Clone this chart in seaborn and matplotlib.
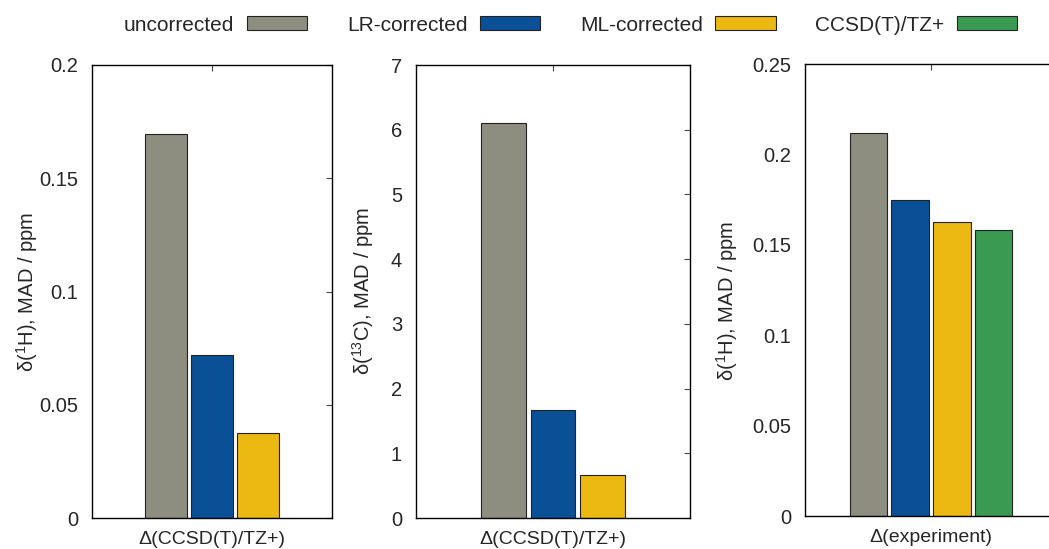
import pandas as pd
import seaborn as sns
import matplotlib.pyplot as plt
from matplotlib.patches import Patch

# Data
methods = ["uncorrected", "LR-corrected", "ML-corrected", "CCSD(T)/TZ+"]
colors = ["#8e8e80", "#0a5096", "#ecb812", "#3a9a52"]

h_ref_methods = ["uncorrected", "LR-corrected", "ML-corrected"]
h_ref_values = [0.1695, 0.072, 0.0375]

c_ref_methods = ["uncorrected", "LR-corrected", "ML-corrected"]
c_ref_values = [6.11, 1.67, 0.66]

h_exp_methods = ["uncorrected", "LR-corrected", "ML-corrected", "CCSD(T)/TZ+"]
h_exp_values = [0.2117, 0.1748, 0.1628, 0.158]

panels = [
    ("Δ(CCSD(T)/TZ+)", h_ref_methods, h_ref_values, r"δ($^{1}$H), MAD / ppm",
     [0, 0.05, 0.1, 0.15, 0.2], ["0", "0.05", "0.1", "0.15", "0.2"], 0.2),
    ("Δ(CCSD(T)/TZ+)", c_ref_methods, c_ref_values, r"δ($^{13}$C), MAD / ppm",
     list(range(8)), [str(i) for i in range(8)], 7),
    ("Δ(experiment)", h_exp_methods, h_exp_values, r"δ($^{1}$H), MAD / ppm",
     [0, 0.05, 0.1, 0.15, 0.2, 0.25], ["0", "0.05", "0.1", "0.15", "0.2", "0.25"], 0.25),
]

# axes boxes in figure fractions, half-width of x range, ylabel coords
W, H = 1049, 549
boxes = [
    ([92 / W, 1 - 518 / H, 240 / W, 453 / H], 0.691, (-0.215, 0.5)),
    ([416 / W, 1 - 518 / H, 274 / W, 453 / H], 0.738, (-0.146, 0.5)),
    ([805 / W, 1 - 516 / H, 252 / W, 452 / H], 0.603, (-0.258, 0.475)),
]

sns.set_theme(style="white")
plt.rcParams["font.family"] = ["Liberation Sans", "DejaVu Sans"]
plt.rcParams["mathtext.fontset"] = "custom"
plt.rcParams["mathtext.rm"] = "Liberation Sans"
plt.rcParams["mathtext.it"] = "Liberation Sans:italic"
palette = dict(zip(methods, colors))

fig = plt.figure(figsize=(W / 100, H / 100), dpi=100)

for (group, meths, vals, ylab, yt, ytl, ymax), (box, half, lc) in zip(panels, boxes):
    ax = fig.add_axes(box)
    df = pd.DataFrame({"group": [group] * len(meths), "method": meths, "value": vals})
    sns.barplot(data=df, x="group", y="value", hue="method", hue_order=meths,
                palette=palette, width=0.8, gap=0.1, edgecolor="#222222",
                linewidth=0.8, saturation=1, legend=False, ax=ax)
    ax.set_xlim(-half, half)
    ax.set_ylim(0, ymax)
    ax.set_yticks(yt)
    ax.set_yticklabels(ytl)
    ax.set_xlabel("")
    ax.set_ylabel(ylab, fontsize=14.5)
    ax.yaxis.set_label_coords(*lc)
    ax.tick_params(axis="both", direction="in", length=4, width=0.8,
                   top=True, right=True, labelsize=14.5, color="#444444")
    ax.tick_params(axis="y", pad=10)
    ax.tick_params(axis="x", pad=9.5, labelsize=14)
    for s in ax.spines.values():
        s.set_color("black")
        s.set_linewidth(1.0)

# Legend along the top, text before swatch
handles = [Patch(facecolor=c, edgecolor="#222222", linewidth=0.8) for c in colors]
fig.legend(handles, methods, loc="center", bbox_to_anchor=(0.544, 0.954), ncol=4,
           frameon=False, markerfirst=False, fontsize=15, handlelength=2.9,
           handleheight=0.65, columnspacing=1.9, handletextpad=0.6)

plt.savefig("out.png", dpi=100)
